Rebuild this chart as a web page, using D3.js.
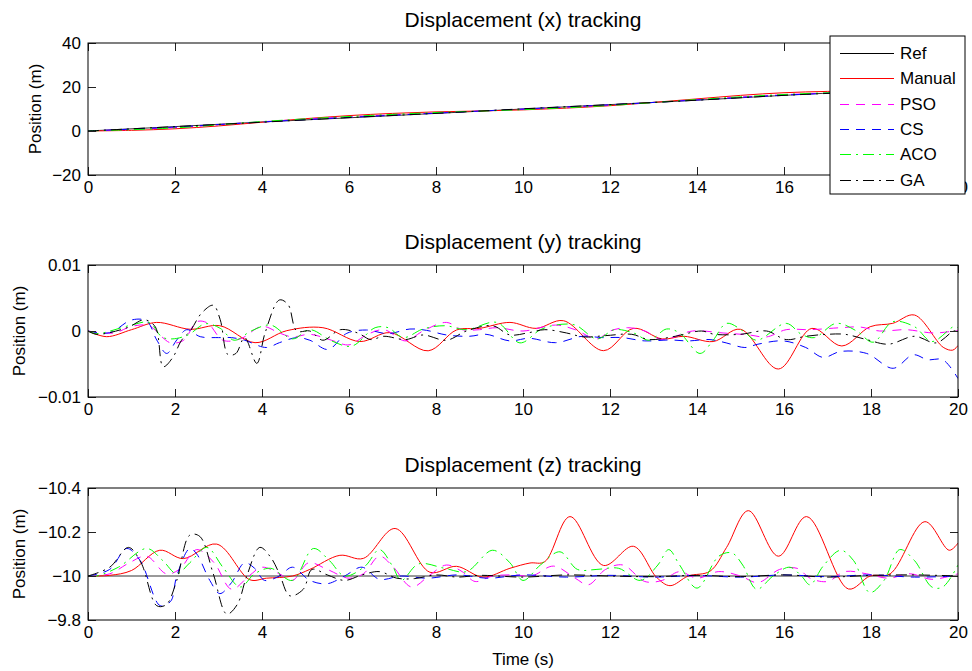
<!DOCTYPE html>
<html>
<head>
<meta charset="utf-8">
<script src="https://cdn.jsdelivr.net/npm/d3@7/dist/d3.min.js"></script>
<style>
    body { margin: 0; background: #fff; }
    svg { font-family: "Liberation Sans", Arial, Helvetica, sans-serif; }
</style>
</head>
<body>
<div id="chart"></div>
<script>
"use strict";

// series names, in plot order
const seriesNames = ["Ref", "Manual", "PSO", "CS", "ACO", "GA"];
const xTicks = [0, 2, 4, 6, 8, 10, 12, 14, 16, 18, 20];

// displacement x, [time, position]
const xRef = [[0, 0], [2, 2], [4, 4.1], [6, 6], [8, 8], [10, 10], [12, 12], [14, 14], [16, 16.2], [17, 17.2], [18, 18], [20, 19.6]];
const xManual = [[0, 0], [1, 0.3], [2, 1.0], [3, 2.3], [4, 4.0], [5, 5.6], [6, 7.0], [7, 8.0], [8, 8.7], [9, 9.1], [10, 9.6], [11, 10.4], [12, 11.5], [13, 13.0], [14, 14.6], [15, 16.2], [16, 17.4], [17, 18.0], [18, 18.3], [19, 18.7], [20, 19.6]];
const xPSO = [[0, 0], [2, 1.6], [4, 4.2], [6, 6.4], [8, 8.2], [10, 9.9], [12, 11.8], [14, 14.2], [16, 16.5], [18, 17.9], [20, 19.5]];
const xCS = [[0, 0], [2, 1.8], [4, 4.1], [6, 6.2], [8, 8.1], [10, 10], [12, 11.9], [14, 14.1], [16, 16.3], [18, 17.9], [20, 19.5]];
const xACO = [[0, 0], [2, 1.4], [4, 4.3], [6, 6.6], [8, 8.4], [10, 9.7], [12, 11.6], [14, 14.3], [16, 16.6], [18, 18], [20, 19.4]];
const xGA = [[0, 0], [2, 2.0], [4, 4.0], [6, 6.1], [8, 8.0], [10, 10.1], [12, 12], [14, 14], [16, 16.2], [18, 17.9], [20, 19.6]];
const xYTicks = [-20, 0, 20, 40];

// displacement y, [time, position in 1e-3 m]
const yManual = [[0, 0], [0.43, -0.86], [1.0, 0.2], [1.58, 1.3], [2.35, 0.26], [3.03, 0.8], [3.84, -1.77], [4.57, 0.05], [5.4, 0.5], [6.25, -1.6], [6.94, -0.25], [7.82, -3.0], [8.47, 0.15], [9.0, 0.4], [9.7, 1.3], [10.3, 0.4], [10.93, 1.56], [11.85, -2.98], [12.54, 0.4], [13.2, -1.2], [13.7, -0.8], [14.37, -1.6], [15.0, 0.26], [15.87, -5.76], [16.64, 0.4], [17.33, -2.27], [17.98, 0.65], [18.5, 1.16], [19.0, 2.42], [19.66, -2.47], [19.88, -2.9], [20, -2.2]];
const yPSO = [[0, 0], [0.6, -0.3], [1.0, 0.7], [1.4, 0.8], [1.7, -0.9], [1.9, -1.8], [2.2, -1.4], [2.5, 1.4], [2.75, 1.2], [3.1, -1.4], [3.5, -1.2], [4.0, 0.7], [4.4, -0.3], [4.7, -0.9], [5.1, -0.5], [5.6, -1.4], [6.0, -2.1], [6.4, -0.6], [6.8, 0.2], [7.3, -1.5], [7.7, 0], [8.24, 1.3], [8.6, 0.2], [9.0, 0.2], [9.4, 0.5], [10.0, 0], [10.75, 0.9], [11.2, 0.2], [11.7, -1.2], [12.0, 0], [12.4, 0.5], [12.8, 0], [13.2, -1.3], [13.9, 0], [14.6, -0.3], [15.2, -0.6], [15.6, -0.9], [16.05, 0.2], [16.6, 0.2], [17.3, 0.5], [17.75, 0.6], [18.2, 0], [18.8, 0.2], [19.45, -0.3], [20, 0.1]];
const yCS = [[0, 0], [0.5, -0.26], [1.0, 1.67], [1.35, 1.5], [1.58, -1.36], [1.81, -3.4], [2.04, -1.36], [2.27, 0.2], [2.58, -0.86], [3.0, -1.0], [3.3, -1.0], [3.6, -1.4], [4.1, -2.5], [4.4, -1.77], [4.8, -1.0], [5.1, -1.4], [5.52, -2.8], [5.95, -0.35], [6.4, 0.15], [6.9, -0.4], [7.4, 0.3], [7.78, 0.1], [8.24, -0.6], [8.77, -0.8], [9.15, -0.5], [9.7, -1.5], [10.14, -1.1], [10.75, -1.77], [11.36, -0.8], [11.82, -1.0], [12.28, -1.0], [12.8, -1.5], [13.38, -1.36], [13.8, -1.5], [14.3, -1.3], [14.67, -1.8], [15.1, -2.5], [15.4, -2.0], [15.98, -1.5], [16.5, -2.5], [16.9, -4.0], [17.3, -3.1], [17.9, -3.4], [18.51, -5.65], [18.97, -3.6], [19.3, -4.35], [19.65, -4.35], [20, -7.2]];
const yACO = [[0, 0], [0.2, -0.4], [1.0, 0.9], [1.4, 1.3], [1.7, -0.9], [1.93, -1.2], [2.3, -0.6], [2.7, 1.1], [3.04, 0.4], [3.36, -1.4], [3.75, 0], [4.2, 0.9], [4.7, -1.2], [5.1, 0.2], [5.6, -1.5], [6.06, -2.3], [6.6, 0.5], [6.9, 0.5], [7.25, -1.0], [7.7, 0.3], [8.2, 0.8], [8.7, 0.2], [9.4, 1.3], [9.93, -1.8], [10.4, 0.2], [10.75, 0.9], [11.2, 0.9], [11.7, -1.2], [12.1, 0.2], [12.54, -0.3], [12.9, -1.4], [13.3, 0.3], [13.6, -0.3], [14.07, -3.4], [14.37, -1.4], [14.68, 1.16], [15.06, 0], [15.37, -1.4], [16.05, 1.16], [16.4, -0.5], [16.7, -1.0], [17.2, 1.16], [17.67, 0], [18.05, -1.7], [18.5, 1.4], [19.0, 0.65], [19.4, -1.6], [19.9, 0.65], [20, 0.5]];
const yGA = [[0, 0], [0.2, -0.5], [0.9, 0.5], [1.3, 1.7], [1.55, 0.6], [1.73, -5.4], [1.95, -4], [2.15, -1.4], [2.35, 0], [2.61, 2.7], [2.88, 3.9], [3.04, 1.7], [3.22, -3.6], [3.4, -3.4], [3.6, -1.0], [3.88, -4.9], [4.07, -0.3], [4.4, 4.7], [4.6, 4.0], [4.8, 0], [5.1, 0], [5.4, -1.4], [5.8, 0.2], [6.2, -0.3], [6.5, -1.3], [6.8, -0.8], [7.3, -1.3], [7.7, -0.6], [8.24, -1.4], [8.7, 0], [9.3, 0.8], [9.7, -0.6], [10.1, -0.3], [10.5, 0.2], [11.0, -0.3], [11.4, -0.9], [11.9, -0.7], [12.5, -0.5], [12.9, -1.3], [13.5, -0.8], [14.1, 0], [14.4, -0.5], [15.0, -0.5], [15.6, 0], [16.05, -1.3], [16.5, -0.8], [17.0, -0.5], [17.4, -0.5], [17.9, -1.3], [18.4, -2.0], [19.0, -0.8], [19.5, -1.8], [19.9, 0], [20, 0]];
const yYTicks = [-0.01, 0, 0.01];

// displacement z, [time, position]
const zRef = [[0, -10], [20, -10]];
const zManual = [[0, -10], [0.5, -10.003], [1.0, -10.025], [1.65, -10.117], [2.19, -10.079], [2.96, -10.145], [3.72, -9.983], [4.1, -9.99], [4.7, -10], [5.1, -10.03], [5.79, -10.094], [6.33, -10.08], [7.06, -10.216], [7.86, -10.017], [8.47, -10.044], [9.08, -9.995], [9.7, -10.035], [10.16, -10.059], [10.5, -10.065], [11.08, -10.27], [11.85, -10.048], [12.54, -10.135], [13.07, -9.994], [13.38, -9.956], [13.8, -10], [14.3, -10.022], [14.68, -10.13], [15.18, -10.297], [15.87, -10.09], [16.52, -10.27], [17.48, -9.941], [17.98, -10], [18.44, -10.01], [19.24, -10.247], [19.8, -10.117], [20, -10.15]];
const zPSO = [[0, -10], [0.5, -10.01], [0.95, -10.06], [1.35, -10.09], [1.8, -10.01], [2.1, -10.03], [2.5, -10.12], [2.9, -10.06], [3.3, -9.94], [3.7, -10], [4.0, -10.04], [4.4, -10.01], [4.7, -9.98], [5.07, -10.06], [5.5, -10.03], [6.0, -9.99], [6.33, -10.01], [6.7, -10.09], [7.0, -10.045], [7.44, -9.95], [7.86, -10.005], [8.24, -10.05], [8.6, -10.02], [8.9, -9.975], [9.3, -10], [9.8, -10.005], [10.2, -10], [10.7, -10.045], [11.2, -9.99], [11.5, -9.96], [11.9, -10.03], [12.3, -10.05], [12.8, -9.975], [13.2, -9.98], [13.6, -10.02], [14.0, -9.99], [14.5, -10.02], [15.0, -10], [15.4, -9.97], [15.9, -10.03], [16.3, -10.035], [16.6, -9.99], [17.0, -9.975], [17.4, -10.02], [17.9, -10.01], [18.4, -9.99], [18.9, -10.01], [19.4, -9.985], [20, -10.01]];
const zCS = [[0, -10], [0.5, -10.03], [0.89, -10.125], [1.2, -10.07], [1.66, -9.865], [1.9, -9.885], [2.04, -10], [2.34, -10.125], [2.5, -10.1], [2.8, -9.98], [3.03, -9.92], [3.3, -9.97], [3.6, -10.06], [3.83, -10.035], [4.06, -9.98], [4.4, -10], [4.7, -10.04], [5.1, -9.98], [5.5, -9.965], [5.9, -10], [6.3, -10.04], [6.7, -9.985], [7.2, -10], [7.8, -9.99], [8.5, -10.005], [9.2, -9.99], [10, -10.005], [11, -9.995], [12, -10.003], [13, -9.995], [14, -10.002], [15, -9.995], [16, -10.005], [17, -9.997], [18, -10.005], [19, -9.995], [20, -10]];
const zACO = [[0, -10], [0.2, -10], [0.7, -10.04], [1.35, -10.125], [1.72, -10.07], [2.04, -10.01], [2.34, -10.06], [2.73, -10.13], [3.1, -10.04], [3.5, -9.95], [3.83, -10.01], [4.2, -10.035], [4.7, -9.98], [5.18, -10.125], [5.55, -10.07], [5.9, -10], [6.37, -10.045], [6.7, -10.12], [7.0, -10.045], [7.2, -9.98], [7.6, -10.055], [8.2, -10.035], [8.7, -10.02], [9.3, -10.117], [9.7, -10.06], [10.0, -9.98], [10.4, -10.05], [10.85, -10.11], [11.25, -10.03], [11.7, -10.03], [12.2, -10.035], [12.7, -9.98], [13.1, -10.05], [13.35, -10.12], [13.6, -10.05], [14.0, -9.945], [14.5, -10.09], [14.8, -10.105], [15.05, -10.05], [15.37, -9.94], [15.75, -10], [16.13, -10.04], [16.4, -10], [16.6, -9.96], [16.9, -10.045], [17.3, -10.117], [17.6, -10.07], [17.97, -9.925], [18.3, -9.98], [18.66, -10.12], [19.0, -10.07], [19.4, -9.95], [19.65, -9.95], [20, -10.05]];
const zGA = [[0, -10], [0.5, -10.04], [0.93, -10.13], [1.22, -10.06], [1.58, -9.865], [1.8, -9.87], [2.04, -9.98], [2.34, -10.186], [2.57, -10.18], [2.88, -10.01], [3.19, -9.827], [3.43, -9.87], [3.65, -10], [3.95, -10.13], [4.2, -10.085], [4.4, -10.01], [4.64, -9.91], [4.95, -9.94], [5.15, -10.03], [5.5, -10.005], [5.9, -9.98], [6.3, -10.005], [6.7, -10.02], [7.1, -9.99], [7.5, -9.988], [8, -10.005], [8.5, -9.995], [9, -10.003], [10, -9.995], [11, -10.005], [12, -10], [13, -9.997], [14, -10.003], [15, -9.997], [16, -10.005], [17, -9.995], [18, -10.003], [19, -10.005], [20, -10]];
const zYTicks = [-10.4, -10.2, -10, -9.8];

// line styles per series
const styles = {
    Ref: { color: "#000", dash: null, width: 0.8 },
    Manual: { color: "#ff0000", dash: null, width: 1 },
    PSO: { color: "#ff00ff", dash: "9,7", width: 1 },
    CS: { color: "#0000ff", dash: "9,7", width: 1 },
    ACO: { color: "#00ff00", dash: "11,5,2,5", width: 1 },
    GA: { color: "#000", dash: "11,5,2,5", width: 1 }
};

const width = 972;
const height = 671;
const plotLeft = 88;
const plotRight = 958;
const plotHeight = 132;
const tickLen = 8;
const fontSize = 17;

const svg = d3.select("#chart").append("svg")
    .attr("width", width)
    .attr("height", height);

svg.append("rect").attr("width", width).attr("height", height).attr("fill", "#fff");

const xScale = d3.scaleLinear().domain([0, 20]).range([plotLeft, plotRight]);

// draws one subplot with its axes, box and lines
function drawPanel(opts) {
    let top = opts.top;
    let bottom = top + plotHeight;
    let yScale = d3.scaleLinear().domain(opts.domain).range([bottom, top]);
    let g = svg.append("g");

    let clipId = "clip" + opts.id;
    svg.append("clipPath").attr("id", clipId)
        .append("rect")
        .attr("x", plotLeft).attr("y", top)
        .attr("width", plotRight - plotLeft).attr("height", plotHeight);

    let line = d3.line()
        .x(d => xScale(d[0]))
        .y(d => yScale(d[1] * (opts.factor || 1)))
        .curve(d3.curveCatmullRom.alpha(0.5));

    let lines = g.append("g").attr("clip-path", "url(#" + clipId + ")");
    opts.series.forEach(s => {
        let st = styles[s.name];
        lines.append("path")
            .datum(s.data)
            .attr("fill", "none")
            .attr("stroke", st.color)
            .attr("stroke-width", st.width)
            .attr("stroke-dasharray", st.dash)
            .attr("d", line);
    });

    // bottom axis with labels, ticks pointing inwards
    let xAxis = g.append("g")
        .attr("transform", "translate(0," + bottom + ")")
        .call(d3.axisBottom(xScale).tickValues(xTicks).tickSizeInner(-tickLen).tickSizeOuter(0).tickPadding(6).tickFormat(d3.format("")));
    let xAxisTop = g.append("g")
        .attr("transform", "translate(0," + top + ")")
        .call(d3.axisTop(xScale).tickValues(xTicks).tickSizeInner(-tickLen).tickSizeOuter(0).tickFormat(""));
    let yAxis = g.append("g")
        .attr("transform", "translate(" + plotLeft + ",0)")
        .call(d3.axisLeft(yScale).tickValues(opts.ticks).tickSizeInner(-tickLen).tickSizeOuter(0).tickPadding(7).tickFormat(d3.format("")));
    let yAxisRight = g.append("g")
        .attr("transform", "translate(" + plotRight + ",0)")
        .call(d3.axisRight(yScale).tickValues(opts.ticks).tickSizeInner(-tickLen).tickSizeOuter(0).tickFormat(""));

    [xAxis, xAxisTop, yAxis, yAxisRight].forEach(a => {
        a.select(".domain").remove();
        a.selectAll(".tick line").attr("stroke", "#222").attr("stroke-width", 1);
        a.selectAll("text").attr("fill", "#000").style("font-size", fontSize + "px").style("font-family", null);
    });

    // box around the axes
    g.append("rect")
        .attr("x", plotLeft).attr("y", top)
        .attr("width", plotRight - plotLeft).attr("height", plotHeight)
        .attr("fill", "none").attr("stroke", "#000").attr("stroke-width", 1);

    g.append("text")
        .attr("x", (plotLeft + plotRight) / 2)
        .attr("y", top - 16)
        .attr("text-anchor", "middle")
        .style("font-size", "21px")
        .text(opts.title);

    g.append("text")
        .attr("transform", "translate(" + opts.labelX + "," + (top + plotHeight / 2) + ") rotate(-90)")
        .attr("text-anchor", "middle")
        .style("font-size", fontSize + "px")
        .text("Position (m)");

    return g;
}

drawPanel({
    id: 1, top: 43, domain: [-20, 40], ticks: xYTicks, labelX: 41,
    title: "Displacement (x) tracking",
    series: [
        { name: "Ref", data: xRef }, { name: "Manual", data: xManual }, { name: "PSO", data: xPSO },
        { name: "CS", data: xCS }, { name: "ACO", data: xACO }, { name: "GA", data: xGA }
    ]
});

drawPanel({
    id: 2, top: 265, domain: [-0.01, 0.01], ticks: yYTicks, labelX: 25, factor: 0.001,
    title: "Displacement (y) tracking",
    series: [
        { name: "Manual", data: yManual }, { name: "PSO", data: yPSO },
        { name: "CS", data: yCS }, { name: "ACO", data: yACO }, { name: "GA", data: yGA }
    ]
});

drawPanel({
    id: 3, top: 488, domain: [-9.8, -10.4], ticks: zYTicks, labelX: 25,
    title: "Displacement (z) tracking",
    series: [
        { name: "Ref", data: zRef }, { name: "Manual", data: zManual }, { name: "PSO", data: zPSO },
        { name: "CS", data: zCS }, { name: "ACO", data: zACO }, { name: "GA", data: zGA }
    ]
});

svg.append("text")
    .attr("x", (plotLeft + plotRight) / 2)
    .attr("y", 665)
    .attr("text-anchor", "middle")
    .style("font-size", fontSize + "px")
    .text("Time (s)");

// legend box over the first subplot
let legend = svg.append("g").attr("transform", "translate(830,36)");
legend.append("rect")
    .attr("width", 135).attr("height", 158)
    .attr("fill", "#fff").attr("stroke", "#000").attr("stroke-width", 1);

seriesNames.forEach((name, i) => {
    let st = styles[name];
    let y = Math.round(16.7 + i * 25.4) + 0.5;
    legend.append("line")
        .attr("x1", 10).attr("x2", 64).attr("y1", y).attr("y2", y)
        .attr("stroke", st.color)
        .attr("stroke-width", 1)
        .attr("stroke-dasharray", st.dash);
    legend.append("text")
        .attr("x", 70).attr("y", y)
        .attr("dy", "0.35em")
        .style("font-size", fontSize + "px")
        .text(name);
});
</script>
</body>
</html>
